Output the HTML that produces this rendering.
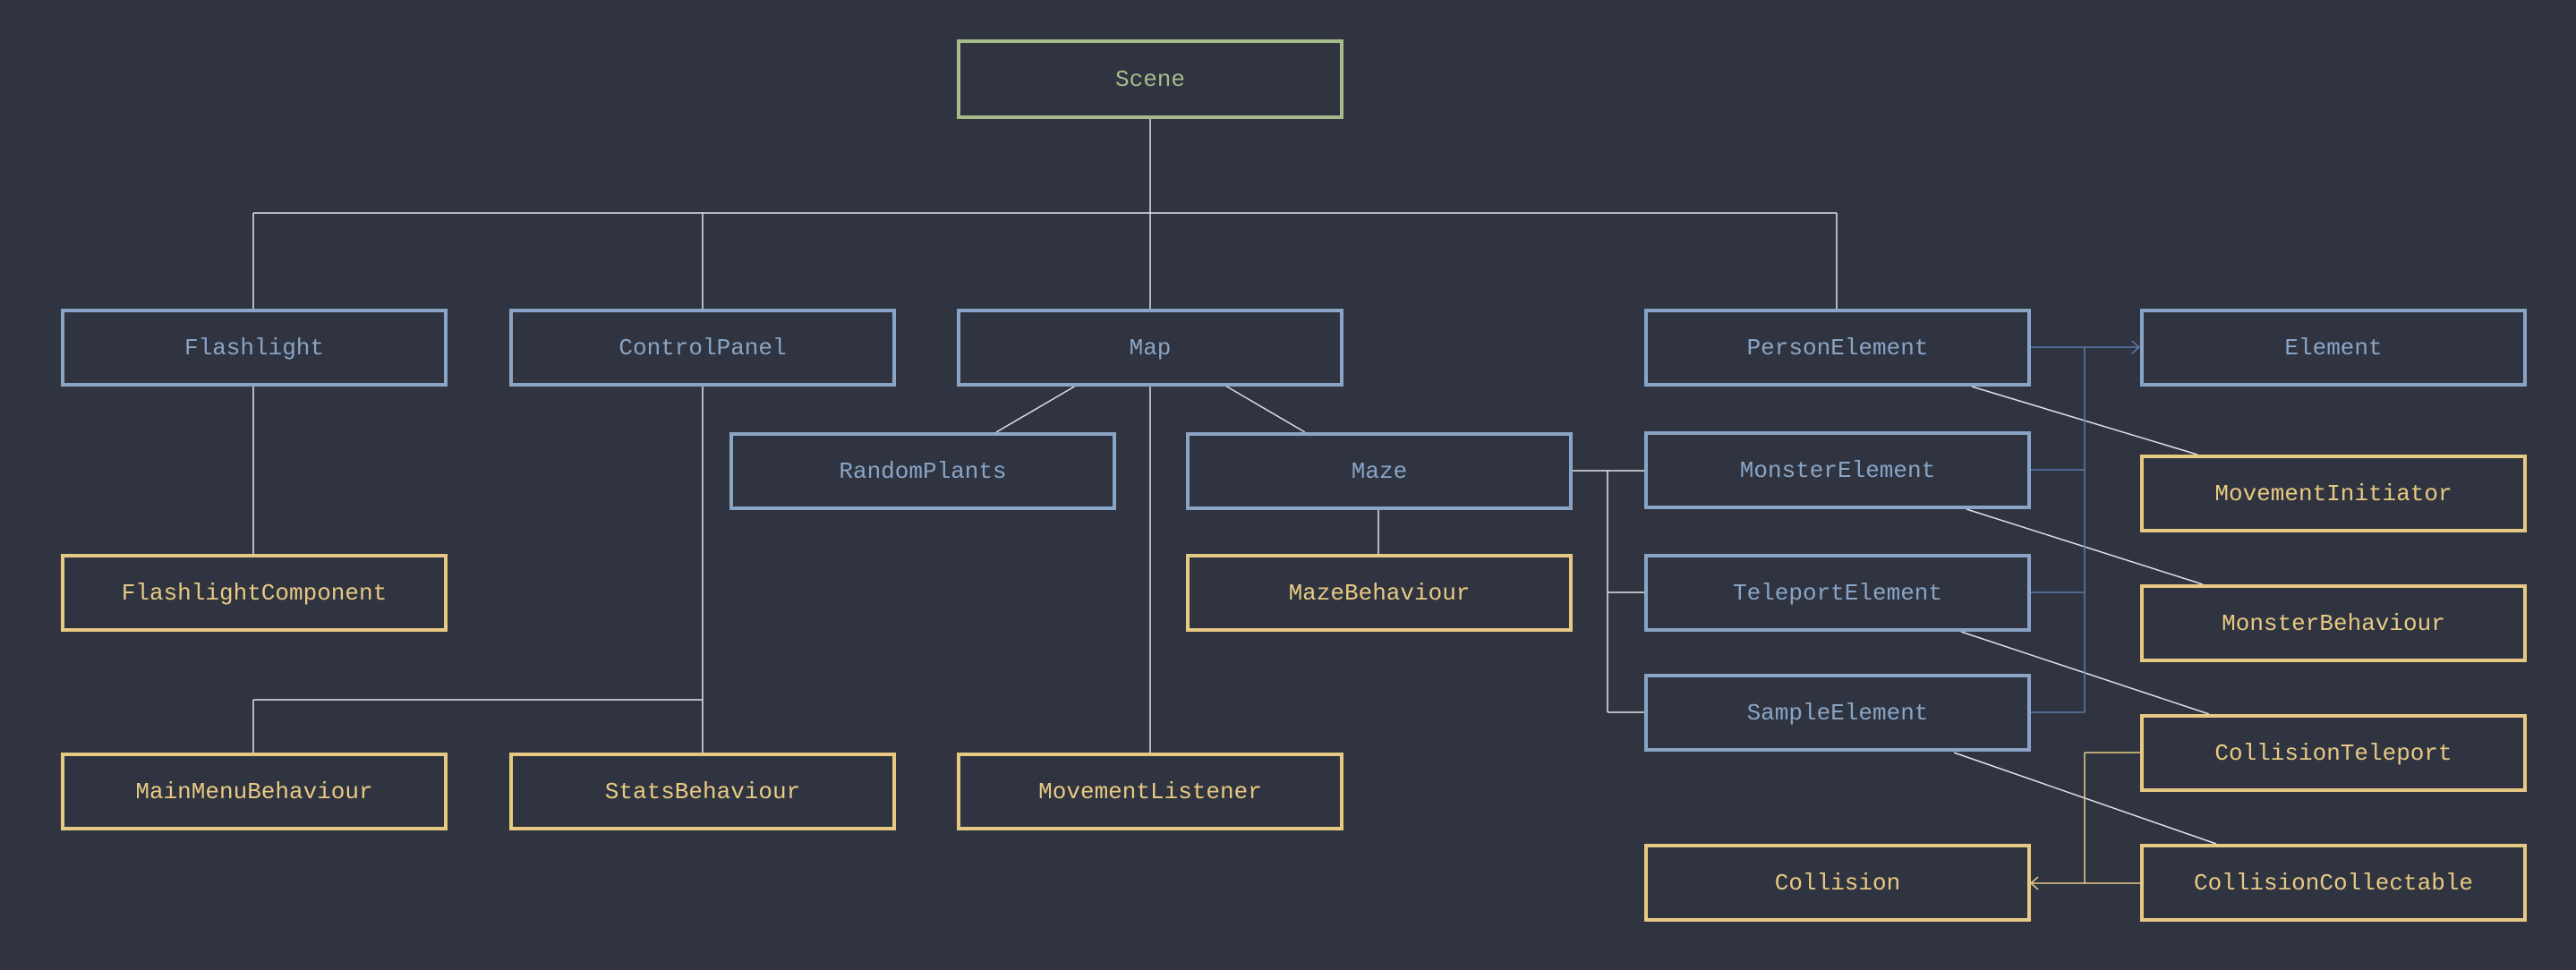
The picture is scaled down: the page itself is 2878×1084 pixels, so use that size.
<!DOCTYPE html>
<html><head><meta charset="utf-8"><style>
html,body{margin:0;padding:0;background:#2f3440;}
svg{display:block}
text{font-family:"Liberation Mono","DejaVu Sans Mono",monospace;font-size:26px;text-anchor:middle;dominant-baseline:central}
</style></head><body>
<svg width="2878" height="1084" viewBox="0 0 2878 1084" xmlns="http://www.w3.org/2000/svg">
<rect width="2878" height="1084" fill="#2f3440"/>
<g stroke="#dfe3ea" stroke-width="1.5" fill="none">
<line x1="1285" y1="133" x2="1285" y2="238"/>
<line x1="283" y1="238" x2="2052" y2="238"/>
<line x1="283" y1="238" x2="283" y2="345"/>
<line x1="785" y1="238" x2="785" y2="345"/>
<line x1="1285" y1="238" x2="1285" y2="345"/>
<line x1="2052" y1="238" x2="2052" y2="345"/>
<line x1="283" y1="431" x2="283" y2="619"/>
<line x1="785" y1="431" x2="785" y2="841"/>
<line x1="283" y1="782" x2="785" y2="782"/>
<line x1="283" y1="782" x2="283" y2="841"/>
<line x1="1285" y1="431" x2="1285" y2="841"/>
<line x1="1202" y1="431" x2="1113" y2="483"/>
<line x1="1369" y1="431" x2="1458" y2="483"/>
<line x1="1540" y1="569" x2="1540" y2="619"/>
<line x1="1755" y1="526" x2="1837" y2="526"/>
<line x1="1796" y1="526" x2="1796" y2="796"/>
<line x1="1796" y1="662" x2="1837" y2="662"/>
<line x1="1796" y1="796" x2="1837" y2="796"/>
<line x1="2203" y1="432" x2="2455" y2="508"/>
<line x1="2197" y1="569" x2="2461" y2="653"/>
<line x1="2191" y1="706" x2="2468" y2="798"/>
<line x1="2183" y1="841" x2="2476" y2="943"/>
</g>
<g stroke="#5b7bad" stroke-width="1.5" fill="none">
<line x1="2267" y1="388" x2="2390" y2="388"/>
<polyline points="2382,381 2390,388 2382,395"/>
<line x1="2329" y1="388" x2="2329" y2="796"/>
<line x1="2267" y1="525" x2="2329" y2="525"/>
<line x1="2267" y1="662" x2="2329" y2="662"/>
<line x1="2267" y1="796" x2="2329" y2="796"/>
</g>
<g stroke="#e8c983" stroke-width="1.5" fill="none">
<line x1="2391" y1="841" x2="2329" y2="841"/>
<line x1="2329" y1="841" x2="2329" y2="987"/>
<line x1="2391" y1="987" x2="2269" y2="987"/>
<polyline points="2277,980 2269,987 2277,994"/>
</g>
<g stroke-width="4" fill="#2f3440">
<rect x="1071" y="46" width="428" height="85" stroke="#a6bb8a"/>
<g stroke="#8aa4c6">
<rect x="70" y="347" width="428" height="83"/>
<rect x="571" y="347" width="428" height="83"/>
<rect x="1071" y="347" width="428" height="83"/>
<rect x="1839" y="347" width="428" height="83"/>
<rect x="2393" y="347" width="428" height="83"/>
<rect x="817" y="485" width="428" height="83"/>
<rect x="1327" y="485" width="428" height="83"/>
<rect x="1839" y="484" width="428" height="83"/>
<rect x="1839" y="621" width="428" height="83"/>
<rect x="1839" y="755" width="428" height="83"/>
</g>
<g stroke="#e8c983">
<rect x="70" y="621" width="428" height="83"/>
<rect x="1327" y="621" width="428" height="83"/>
<rect x="70" y="843" width="428" height="83"/>
<rect x="571" y="843" width="428" height="83"/>
<rect x="1071" y="843" width="428" height="83"/>
<rect x="1839" y="945" width="428" height="83"/>
<rect x="2393" y="510" width="428" height="83"/>
<rect x="2393" y="655" width="428" height="83"/>
<rect x="2393" y="800" width="428" height="83"/>
<rect x="2393" y="945" width="428" height="83"/>
</g>
</g>
<text x="1285" y="89" fill="#a6bb8a">Scene</text>
<g fill="#8aa4c6">
<text x="284" y="389">Flashlight</text>
<text x="785" y="389">ControlPanel</text>
<text x="1285" y="389">Map</text>
<text x="2053" y="389">PersonElement</text>
<text x="2607" y="389">Element</text>
<text x="1031" y="527">RandomPlants</text>
<text x="1541" y="527">Maze</text>
<text x="2053" y="526">MonsterElement</text>
<text x="2053" y="663">TeleportElement</text>
<text x="2053" y="797">SampleElement</text>
</g>
<g fill="#e8c983">
<text x="284" y="663">FlashlightComponent</text>
<text x="1541" y="663">MazeBehaviour</text>
<text x="284" y="885">MainMenuBehaviour</text>
<text x="785" y="885">StatsBehaviour</text>
<text x="1285" y="885">MovementListener</text>
<text x="2053" y="987">Collision</text>
<text x="2607" y="552">MovementInitiator</text>
<text x="2607" y="697">MonsterBehaviour</text>
<text x="2607" y="842">CollisionTeleport</text>
<text x="2607" y="987">CollisionCollectable</text>
</g>
</svg>
</body></html>
